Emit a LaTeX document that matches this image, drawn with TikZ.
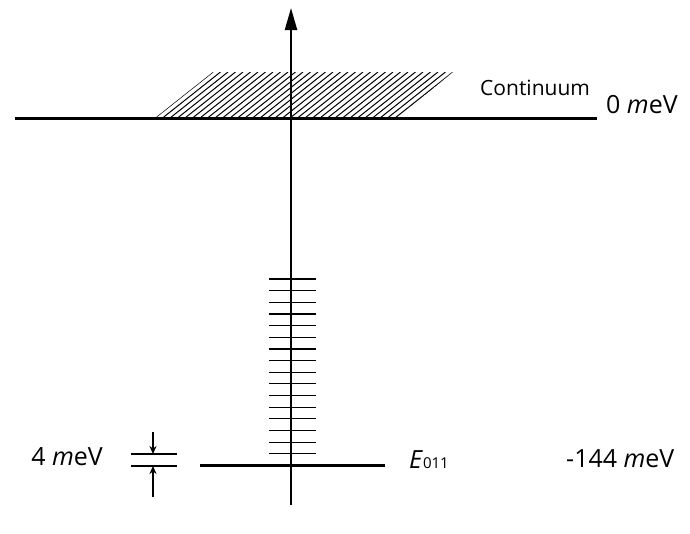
\documentclass[tikz,border=0pt]{standalone}
\usepackage{fontspec}
\setmainfont{Open Sans}
\usetikzlibrary{arrows.meta}

\tikzset{
  level/.style={line width=3pt},
  sublevel/.style={line width=1.2pt},
  lbl/.style={inner sep=0pt, font=\fontsize{25}{28}\selectfont},
}

\begin{document}
\begin{tikzpicture}[x=1pt, y=-1pt]
  \useasboundingbox (0,0) rectangle (690,533);

  % Continuum (hatched)
  \begin{scope}
    \clip (155,118) -- (213,72) -- (453,72) -- (397,118) -- cycle;
    \foreach \x in {95,102.5,...,460}
      \draw[line width=1pt] (\x,118) -- ++(58,-46);
  \end{scope}

  % Levels
  \draw[level] (15,118) -- (597,118);
  \draw[level] (200,465) -- (385,465);
  \foreach \i in {0,...,15}
    \draw[sublevel] (269,{279+11.65*\i}) -- (316,{279+11.65*\i});

  % Axis
  \coordinate (axbot) at (291,505);
  \coordinate (axtop) at (291,8);
  \draw[line width=2.2pt, -{Triangle[length=22pt,width=12pt]}] (axbot) -- (axtop);

  % 4 meV marker
  \draw[sublevel] (131,454) -- (177,454);
  \draw[sublevel] (131,466) -- (177,466);
  \coordinate (up0) at (153,432);
  \coordinate (up1) at (153,454);
  \coordinate (lo0) at (153,497);
  \coordinate (lo1) at (153,466);
  \draw[line width=1.5pt, -{Stealth[length=8pt,width=7pt]}] (up0) -- (up1);
  \draw[line width=1.5pt, -{Stealth[length=8pt,width=7pt]}] (lo0) -- (lo1);

  % Labels
  \node[lbl, font=\fontsize{21}{24}\selectfont, anchor=base west] (cont) at (480,95) {Continuum};
  \node[lbl, anchor=base west] (zero) at (606,113) {0 \textit{m}eV};
  \node[lbl, anchor=base west] (bottom) at (566,467) {-144 \textit{m}eV};
  \node[lbl, anchor=base east] (gap) at (103,465) {4 \textit{m}eV};
  \node[lbl, font=\fontsize{25}{28}\selectfont, anchor=base west] (e011) at (409,468) {\textit{E}{\fontsize{15}{17}\selectfont 011}};
\end{tikzpicture}
\end{document}
